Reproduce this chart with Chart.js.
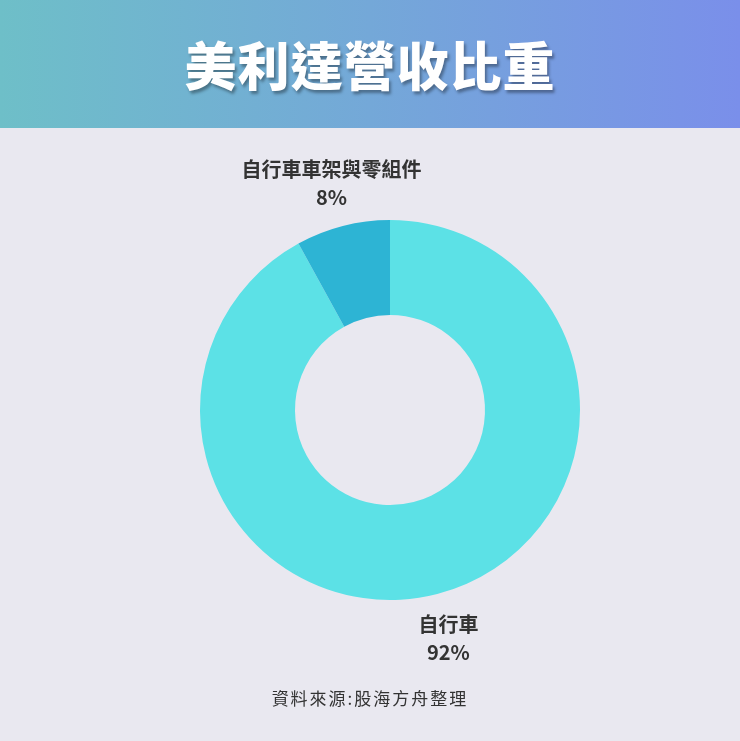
<!DOCTYPE html>
<html>
<head>
<meta charset="utf-8">
<script src="https://cdn.jsdelivr.net/npm/chart.js@4.4.0/dist/chart.umd.min.js"></script>
<style>
  body { margin: 0; background: #e9e8f0; }
  #page { position: relative; width: 740px; height: 741px; background: #e9e8f0; overflow: hidden; }
  #header {
    position: absolute; left: 0; top: 0; width: 740px; height: 128px;
    background: linear-gradient(90deg, #6ebfc8 0%, #74a8d8 50%, #7a8fea 100%);
    color: #fff; text-align: center; line-height: 128px;
    font-family: "Noto Sans CJK TC", sans-serif; font-weight: 900; font-size: 52px;
    letter-spacing: 1px;
    text-shadow: 2px 3px 3px rgba(0,0,0,0.35);
  }
  #wrap { position: absolute; left: 0; top: 128px; width: 740px; height: 613px; }
  #footer {
    position: absolute; left: 0; top: 685px; width: 740px; text-align: center;
    font-family: "Noto Sans CJK TC", sans-serif; font-size: 17px; color: #333;
    letter-spacing: 2px;
  }
</style>
</head>
<body>
<div id="page">
  <div id="header">美利達營收比重</div>
  <div id="wrap"><canvas id="myChart"></canvas></div>
  <div id="footer">資料來源:股海方舟整理</div>
</div>
<script>
const categorias = ['自行車', '自行車車架與零組件']
const valores = [92, 8]
const cores = ['#5ce1e6', '#2db4d4']

// rótulos fora da rosca, no meio de cada fatia
const rotulos = {
  id: 'rotulos',
  afterDatasetsDraw(chart) {
    const ctx = chart.ctx
    const meta = chart.getDatasetMeta(0)
    const total = valores.reduce((a, b) => a + b, 0)
    ctx.save()
    ctx.fillStyle = '#333333'
    ctx.textAlign = 'center'
    ctx.textBaseline = 'middle'
    ctx.font = 'bold 20px "Noto Sans CJK TC", sans-serif'
    meta.data.forEach((arc, i) => {
      const p = arc.getProps(['x', 'y', 'startAngle', 'endAngle', 'outerRadius'], true)
      const ang = (p.startAngle + p.endAngle) / 2
      const r = p.outerRadius + 45
      const x = p.x + Math.cos(ang) * r
      const y = p.y + Math.sin(ang) * r + 1
      ctx.fillText(categorias[i], x, y - 14)
      ctx.fillText(Math.round(valores[i] / total * 100) + '%', x, y + 14)
    })
    ctx.restore()
  }
}

const ctx = document.getElementById('myChart').getContext('2d')
new Chart(ctx, {
  type: 'doughnut',
  data: {
    labels: categorias,
    datasets: [{
      data: valores,
      backgroundColor: cores,
      borderWidth: 0
    }]
  },
  options: {
    responsive: true,
    maintainAspectRatio: false,
    animation: false,
    cutout: '50%',
    layout: { padding: { left: 200, right: 160, top: 92, bottom: 141 } },
    plugins: {
      legend: { display: false },
      tooltip: { enabled: false }
    }
  },
  plugins: [rotulos]
})
</script>
</body>
</html>
